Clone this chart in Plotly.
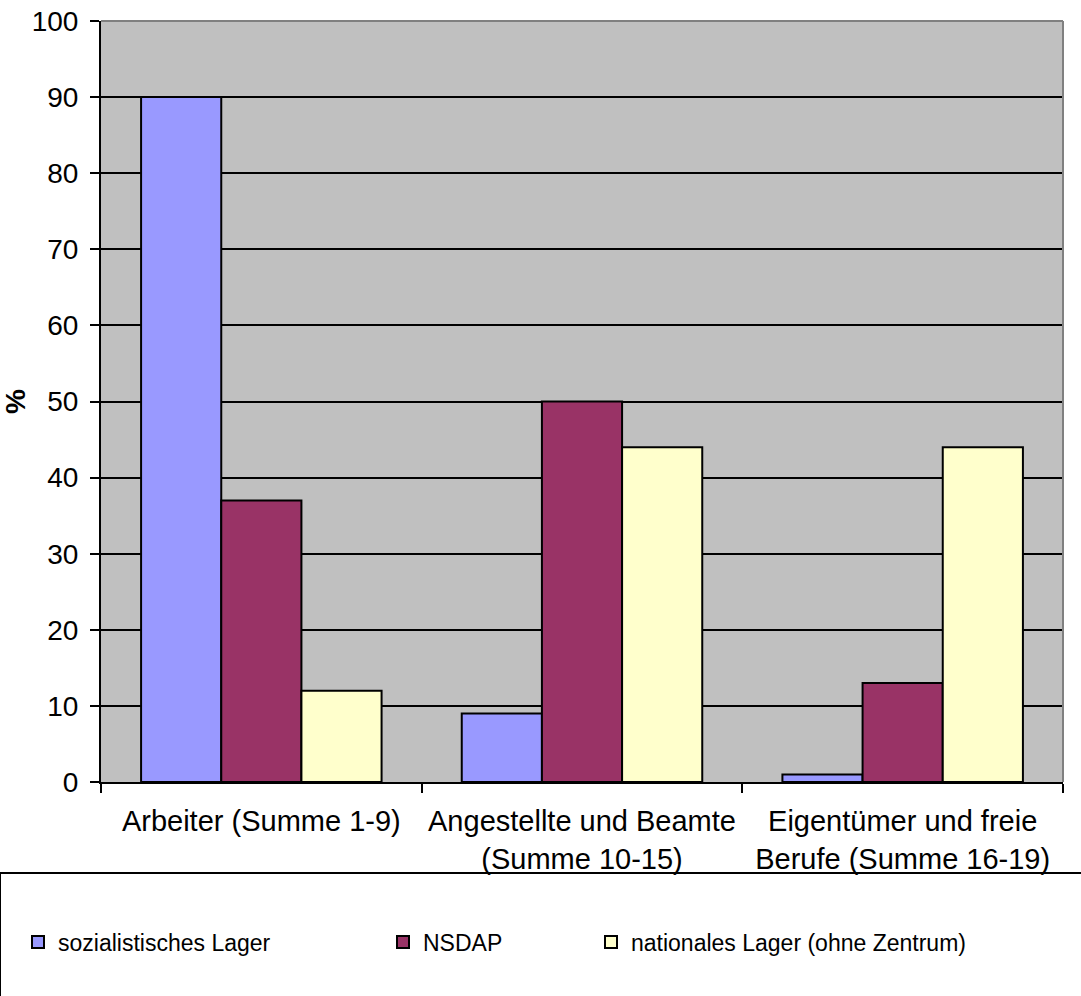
import plotly.graph_objects as go

categories = ["Arbeiter (Summe 1-9)",
              "Angestellte und Beamte<br>(Summe 10-15)",
              "Eigentümer und freie<br>Berufe (Summe 16-19)"]
series_names = ["sozialistisches Lager", "NSDAP", "nationales Lager (ohne Zentrum)"]
sozialistisch = [90, 9, 1]
nsdap = [37, 50, 13]
national = [12, 44, 44]
colors = ["#9999FF", "#993366", "#FFFFCC"]
y_ticks = [0, 10, 20, 30, 40, 50, 60, 70, 80, 90, 100]

FONT = "Liberation Sans, Arial, sans-serif"
W, H = 1081, 996
L, R, T, B = 101, 18, 21, 214

fig = go.Figure()
legends = ["legend", "legend2", "legend3"]
for name, vals, col, lg in zip(series_names, [sozialistisch, nsdap, national], colors, legends):
    fig.add_trace(go.Bar(x=categories, y=vals, name=name, legend=lg,
                         marker=dict(color=col, line=dict(color="black", width=2))))

leg_text_x = [58, 423, 631]
leg_common = dict(orientation="h", xref="container", yref="container",
                  xanchor="left", yanchor="middle", y=(H - 942) / H,
                  font=dict(family=FONT, size=23, color="black"),
                  bgcolor="rgba(0,0,0,0)", borderwidth=0, itemwidth=30)
layout_legends = {}
for lg, tx in zip(legends, leg_text_x):
    layout_legends[lg] = dict(leg_common, x=(tx - 40) / W)

fig.update_layout(
    width=W, height=H,
    margin=dict(l=L, r=R, t=T, b=B, autoexpand=False),
    paper_bgcolor="white", plot_bgcolor="#C0C0C0",
    barmode="group", bargap=0.25, bargroupgap=0,
    font=dict(family=FONT, size=28, color="black"),
    showlegend=True,
    xaxis=dict(showline=True, linecolor="black", linewidth=2, automargin=False,
               ticks="outside", ticklen=9, tickwidth=2, tickcolor="black",
               tickson="boundaries", showgrid=False, ticklabelstandoff=12,
               tickfont=dict(family=FONT, size=29)),
    yaxis=dict(range=[0, 100], tickvals=y_ticks, showline=True, linecolor="black",
               linewidth=2, ticks="outside", ticklen=9, tickwidth=2, tickcolor="black",
               showgrid=True, gridcolor="black", gridwidth=2, zeroline=False,
               automargin=False,
               tickfont=dict(family=FONT, size=28), ticklabelstandoff=6,
               title=dict(text="<b>%</b>", font=dict(family=FONT, size=28), standoff=0)),
    **layout_legends,
)

# grey top and right plot border
fig.add_shape(type="line", xref="paper", yref="paper", x0=0, x1=1, y0=1, y1=1,
              line=dict(color="#808080", width=2), layer="above")
fig.add_shape(type="line", xref="paper", yref="paper", x0=1, x1=1, y0=0, y1=1,
              line=dict(color="#808080", width=2), layer="above")
# legend frame
pw = W - L - R
ph = H - T - B
fig.add_shape(type="rect", xref="paper", yref="paper",
              x0=(0 - L) / pw, x1=(W + 10 - L) / pw,
              y0=(ph - (H + 10 - T)) / ph, y1=(ph - (873 - T)) / ph,
              line=dict(color="black", width=2), fillcolor="rgba(0,0,0,0)", layer="above")

fig.write_html("out.html",
               config={"displayModeBar": False},
               post_script="document.body.style.margin='0';document.body.style.overflow='hidden';")
